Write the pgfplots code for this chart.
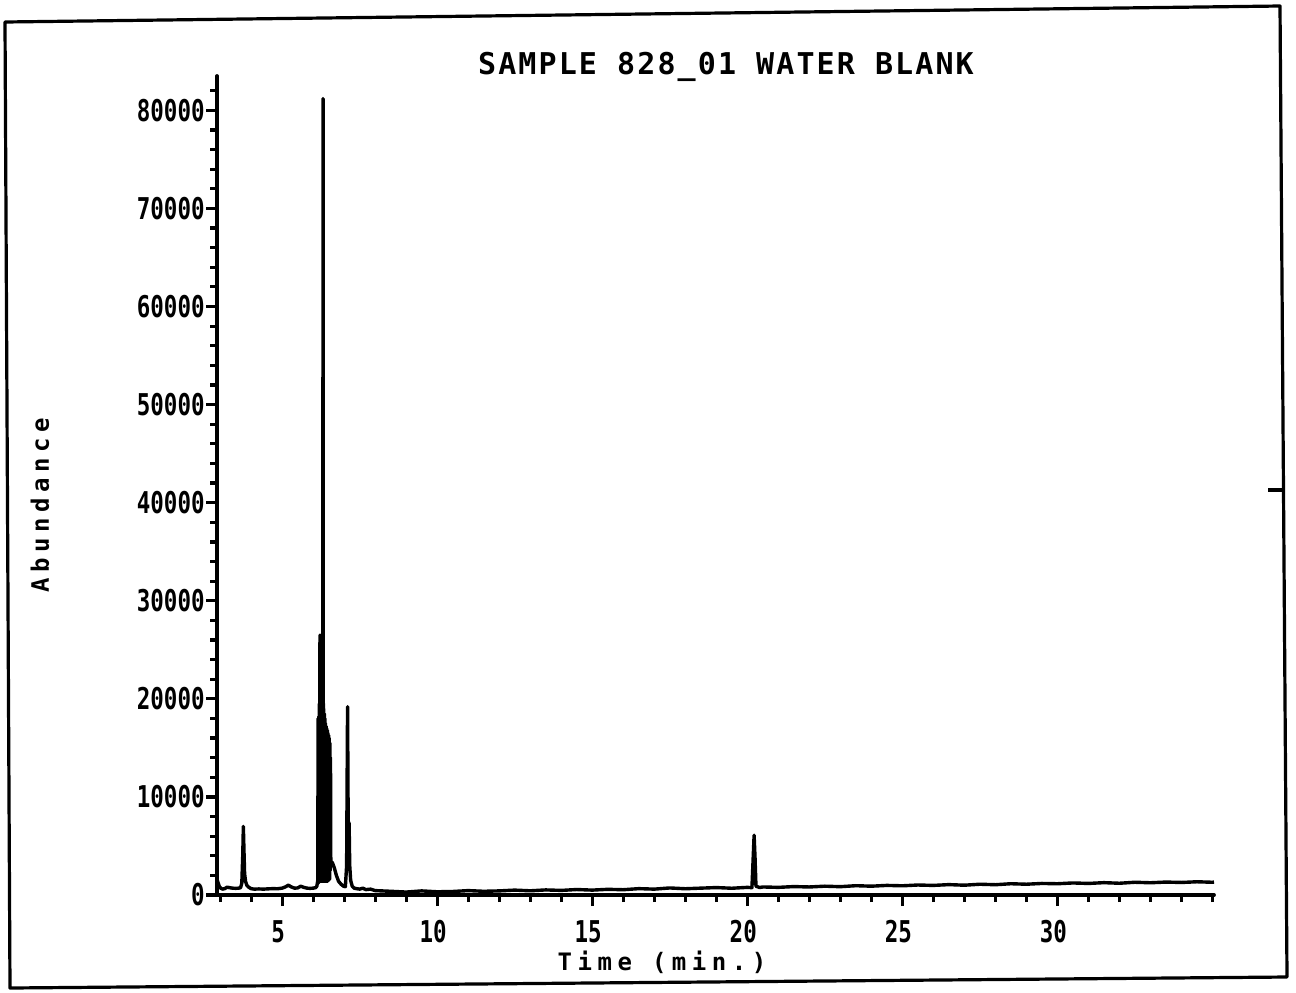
\documentclass[border=0pt]{standalone}
\usepackage{pgfplots}
\pgfplotsset{compat=1.18}
\usepackage{fontspec}
\newfontfamily\tickfontfam[FakeStretch=0.75]{DejaVu Sans Mono}
\newfontfamily\titlefontfam[LetterSpace=7]{DejaVu Sans Mono}
\newfontfamily\labelfontfam[LetterSpace=23]{DejaVu Sans Mono}
\newcommand\tkf{\tickfontfam\bfseries\fontsize{15pt}{15pt}\selectfont}
\newcommand\ttf{\titlefontfam\bfseries\fontsize{15pt}{15pt}\selectfont}
\newcommand\lbf{\labelfontfam\bfseries\fontsize{12pt}{12pt}\selectfont}
\begin{document}
\begin{tikzpicture}
\path[use as bounding box] (0,0) rectangle (648pt,-496pt);
\begin{axis}[
  at={(108.5pt,-447.5pt)}, anchor=south west,
  scale only axis, width=498.5pt, height=409.5pt,
  xmin=2.9, xmax=35.05, ymin=0, ymax=83500,
  axis lines*=left,
  axis line style={line width=1.9pt, line cap=round},
  tick align=outside,
  major tick length=5.5pt, minor tick length=3.5pt,
  tick style={line width=1.6pt, black},
  scaled y ticks=false, scaled x ticks=false,
  xtick={5,10,15,20,25,30},
  minor xtick={3,4,6,7,8,9,11,12,13,14,16,17,18,19,21,22,23,24,26,27,28,29,31,32,33,34,35},
  ytick={0,10000,20000,30000,40000,50000,60000,70000,80000},
  minor ytick={2000,4000,6000,8000,12000,14000,16000,18000,22000,24000,26000,28000,32000,34000,36000,38000,42000,44000,46000,48000,52000,54000,56000,58000,62000,64000,66000,68000,72000,74000,76000,78000,82000},
  xticklabels={5,10,15,20,25,30},
  yticklabels={0,10000,20000,30000,40000,50000,60000,70000,80000},
  ticklabel style={font=\tkf},
  yticklabel style={inner sep=0.5pt},
  xticklabel style={inner sep=0pt, yshift=-7pt, xshift=-2pt},
  clip=false,
]
\addplot[black, line width=1.7pt, line join=round] coordinates {
(2.90,1600) (2.93,1300) (2.97,900) (3.02,700) (3.08,600) (3.15,650) (3.22,800) (3.30,750) (3.40,700) (3.50,680) (3.60,700) (3.66,750) (3.70,1200) (3.73,4000) (3.75,7000) (3.77,4500) (3.79,2200) (3.82,1400) (3.86,1000) (3.92,800) (4.00,650) (4.10,600) (4.25,620) (4.40,600) (4.55,630) (4.70,650) (4.85,640) (5.00,700) (5.10,820) (5.20,1000) (5.30,820) (5.40,700) (5.50,720) (5.60,900) (5.70,780) (5.80,700) (5.90,680) (6.00,700) (6.08,750) (6.12,900) (6.15,1500)
(6.16,18000) (6.17,1200) (6.18,18200) (6.19,1300) (6.20,19500) (6.21,1400) (6.22,26500) (6.23,1400) (6.24,19800) (6.25,1400) (6.26,19500) (6.27,1400) (6.28,19000) (6.29,1400) (6.30,19200) (6.31,1400) (6.32,81200) (6.33,1400) (6.34,19000) (6.35,1400) (6.36,18500) (6.37,1400) (6.38,18000) (6.39,1400) (6.40,17500) (6.41,1400) (6.42,17200) (6.43,1400) (6.44,17000) (6.45,1400) (6.46,16800) (6.47,1400) (6.48,16500) (6.49,1500) (6.50,16300) (6.51,1500) (6.52,16000) (6.53,1600) (6.54,15500) (6.55,2500) (6.56,14000) (6.57,3400)
(6.62,3300) (6.68,2800) (6.75,2000) (6.82,1400) (6.90,1100) (6.98,900) (7.04,850) (7.08,3000) (7.11,19200) (7.13,7500) (7.16,7300) (7.18,3000) (7.21,1500) (7.26,900) (7.32,700) (7.40,650) (7.50,600) (7.60,700) (7.70,550) (7.85,600)
(8.0,450) (8.5,380) (9.0,300) (9.5,420) (10.0,330) (10.5,360) (11.0,450) (11.5,380) (12.0,420) (12.5,500) (13.0,430) (13.5,520) (14.0,470) (14.5,560) (15.0,500) (15.5,580) (16.0,540) (16.5,650) (17.0,600) (17.5,720) (18.0,640) (18.5,700) (19.0,760) (19.5,690) (20.0,780) (20.15,750) (20.19,3800) (20.22,6100) (20.25,3800) (20.28,900) (20.4,760) (20.5,820) (21.0,780) (21.5,860) (22.0,820) (22.5,900) (23.0,850) (23.5,950) (24.0,900) (24.5,980) (25.0,940) (25.5,1020) (26.0,980) (26.5,1060) (27.0,1000) (27.5,1100) (28.0,1050) (28.5,1150) (29.0,1100) (29.5,1180) (30.0,1150) (30.5,1230) (31.0,1180) (31.5,1260) (32.0,1200) (32.5,1300) (33.0,1250) (33.5,1320) (34.0,1280) (34.5,1350) (35.0,1300) (35.05,1320)
};
\end{axis}
\node[font=\ttf, inner sep=0pt] at (363pt,-33.5pt) {SAMPLE 828\_01 WATER BLANK};
\node[font=\lbf, inner sep=0pt] at (331pt,-481pt) {Time (min.)};
\node[font=\lbf, inner sep=0pt, rotate=90] at (20pt,-252.5pt) {Abundance};
\draw[line width=1.6pt, line join=round] (2.5pt,-11pt) -- (640pt,-3pt) -- (643.5pt,-488.5pt) -- (5pt,-494pt) -- cycle;
\draw[line width=1.6pt] (634pt,-245pt) -- (641.5pt,-245pt);
\end{tikzpicture}
\end{document}
